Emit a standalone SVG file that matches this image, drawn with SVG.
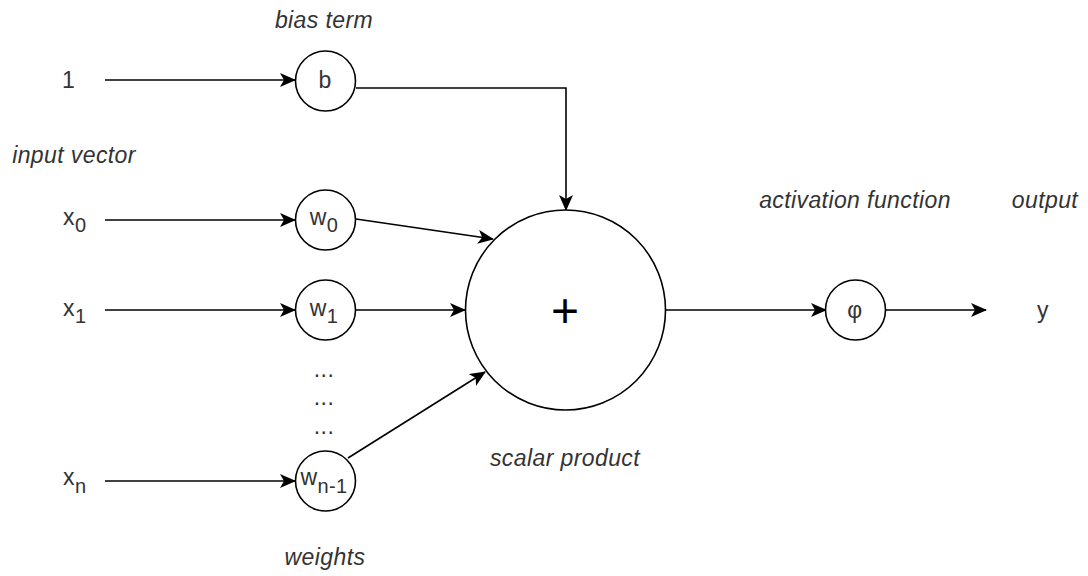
<svg xmlns="http://www.w3.org/2000/svg" width="1088" height="576" viewBox="0 0 1088 576">
<defs>
<marker id="arr" viewBox="0 0 16 14" refX="15" refY="7" markerWidth="16" markerHeight="14" markerUnits="userSpaceOnUse" orient="auto">
<path d="M0,0 L16,7 L0,14 L4,7 Z" fill="#000"/>
</marker>
</defs>
<style>
.t{font-family:"Liberation Sans",Arial,sans-serif;font-size:23px;letter-spacing:0.4px;fill:#333;}
.it{font-style:italic;}
.c{text-anchor:middle;}
.n{fill:#fff;stroke:#000;stroke-width:1.6;}
.e{fill:none;stroke:#000;stroke-width:1.6;marker-end:url(#arr);}
</style>
<rect width="1088" height="576" fill="#fff"/>
<g id="connectors">
<path class="e" d="M105,80 L295,80"/>
<path class="e" d="M105,220 L295,220"/>
<path class="e" d="M105,310 L295,310"/>
<path class="e" d="M105,481 L295,481"/>
<path class="e" d="M356,88 L566,88 L566,210"/>
<path class="e" d="M356,219 L493,239"/>
<path class="e" d="M356,310 L465,310"/>
<path class="e" d="M348,458 L485,372"/>
<path class="e" d="M666,310 L826,310"/>
<path class="e" d="M886,310 L986,310"/>
</g>
<g id="label-1"><text class="t c" x="68.5" y="88">1</text></g>
<g id="label-input-vector"><text class="t it c" x="74" y="163">input vector</text></g>
<g id="label-x0"><text class="t" x="63" y="225">x<tspan font-size="20" dy="7">0</tspan></text></g>
<g id="label-x1"><text class="t" x="63" y="316">x<tspan font-size="20" dy="7">1</tspan></text></g>
<g id="label-xn"><text class="t" x="63" y="485">x<tspan font-size="20" dy="8">n</tspan></text></g>
<g id="label-bias-term"><text class="t it c" x="324" y="28">bias term</text></g>
<g id="node-b"><circle class="n" cx="325.5" cy="81" r="30"/><text class="t c" x="325" y="88">b</text></g>
<g id="node-w0"><circle class="n" cx="325.5" cy="220" r="30"/><text class="t c" x="324" y="225">w<tspan font-size="20" dy="7">0</tspan></text></g>
<g id="node-w1"><circle class="n" cx="325.5" cy="310" r="30"/><text class="t c" x="324" y="316">w<tspan font-size="20" dy="7">1</tspan></text></g>
<g id="dots">
<text class="t c" x="324" y="377">...</text>
<text class="t c" x="324" y="405">...</text>
<text class="t c" x="324" y="434">...</text>
</g>
<g id="node-wn1"><circle class="n" cx="325.5" cy="481" r="30"/><text class="t c" x="324" y="485">w<tspan font-size="20" dy="8">n-1</tspan></text></g>
<g id="label-weights"><text class="t it c" x="325" y="565">weights</text></g>
<g id="node-sum"><circle class="n" cx="565.5" cy="310" r="100"/><text class="c" x="565" y="327" font-family="Liberation Sans,Arial,sans-serif" font-size="48" fill="#000">+</text></g>
<g id="label-scalar-product"><text class="t it c" x="565" y="466">scalar product</text></g>
<g id="label-activation"><text class="t it c" x="855" y="208">activation function</text></g>
<g id="node-phi"><circle class="n" cx="855.5" cy="310" r="30"/><text class="t c" x="855" y="318">φ</text></g>
<g id="label-output"><text class="t it c" x="1045" y="208">output</text></g>
<g id="label-y"><text class="t c" x="1043" y="318">y</text></g>
</svg>
